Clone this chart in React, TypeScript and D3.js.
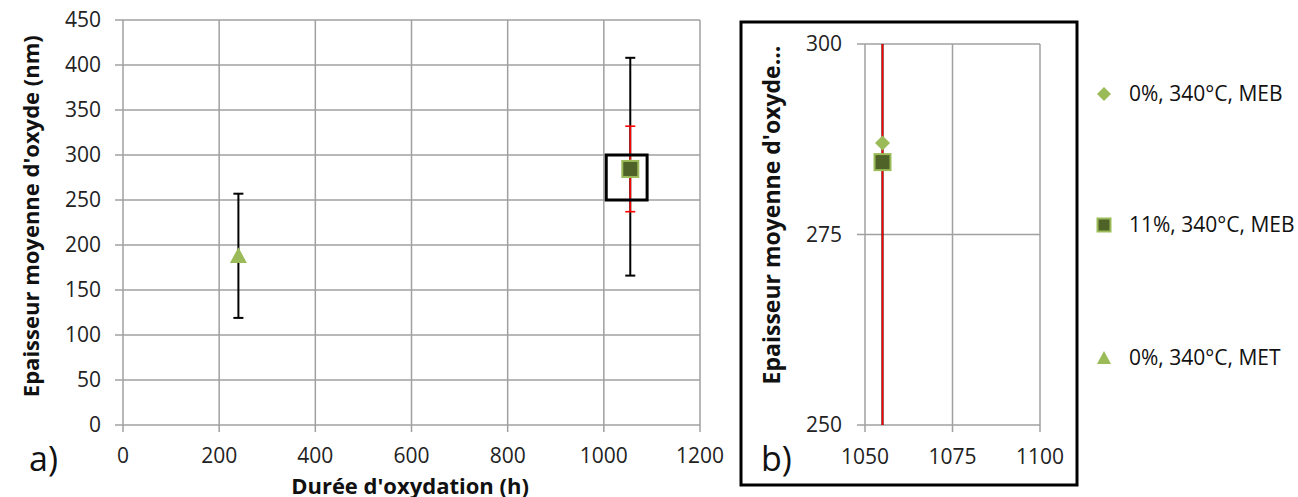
import React from "react";
import * as d3 from "d3";

// ---- data ----
const seriesNames = ["0%, 340°C, MEB", "11%, 340°C, MEB", "0%, 340°C, MET"];
const durations = [1055, 1055, 240];
const thickness = [287, 284.5, 188];
const errors = [121, 47.5, 69];
const xTicksA = [0, 200, 400, 600, 800, 1000, 1200];
const yTicksA = [0, 50, 100, 150, 200, 250, 300, 350, 400, 450];
const xTicksB = [1050, 1075, 1100];
const yTicksB = [250, 275, 300];
const zoomBoxX = [1005, 1090];
const zoomBoxY = [250, 300];

const FONT = "'Open Sans', 'Liberation Sans', sans-serif";
const GRID = "#a0a0a0";
const LIGHT = "#9bbb59";
const DARK = "#4f6228";
const errColor = ["#000000", "#ff0000", "#000000"];
const drawOrder = [0, 2, 1]; // error bars order: black first, red on top

function Marker({ kind, x, y, s }: { kind: number; x: number; y: number; s: number }) {
  if (kind === 0) {
    const h = s / 2;
    return <path d={`M${x},${y - h}L${x + h},${y}L${x},${y + h}L${x - h},${y}Z`} fill={LIGHT} />;
  }
  if (kind === 1) {
    return <rect x={x - s / 2} y={y - s / 2} width={s} height={s} fill={DARK} stroke={LIGHT} strokeWidth={2} />;
  }
  const h = s / 2;
  return <path d={`M${x},${y - h}L${x + h},${y + h * 0.85}L${x - h},${y + h * 0.85}Z`} fill={LIGHT} />;
}

export default function App() {
  const xa = d3.scaleLinear().domain([0, 1200]).range([123, 700]);
  const ya = d3.scaleLinear().domain([0, 450]).range([425, 20]);
  const xb = d3.scaleLinear().domain([1050, 1100]).range([865, 1040]);
  const yb = d3.scaleLinear().domain([250, 300]).range([425, 44]);

  const errBar = (i: number, xs: any, ys: any, clip?: string) => {
    const x = xs(durations[i]);
    const y1 = ys(thickness[i] + errors[i]);
    const y2 = ys(thickness[i] - errors[i]);
    return (
      <g key={"e" + i} stroke={errColor[i]} strokeWidth={errColor[i] === "#ff0000" ? 1.6 : 2} clipPath={clip}>
        <line x1={x} x2={x} y1={y1} y2={y2} />
        <line x1={x - 5} x2={x + 5} y1={y1} y2={y1} />
        <line x1={x - 5} x2={x + 5} y1={y2} y2={y2} />
      </g>
    );
  };

  const markerSize = [15, 16, 17];
  const plotOrder = [0, 2, 1];

  return (
    <svg width={1298} height={497} style={{ position: "absolute", left: 0, top: 0, background: "#fff" }} fontFamily={FONT}>
      <defs>
        <clipPath id="clipB">
          <rect x={xb(1050)} y={yb(300)} width={xb(1100) - xb(1050)} height={yb(250) - yb(300)} />
        </clipPath>
      </defs>
      {/* ---------- Chart a ---------- */}
      <g>
        {yTicksA.map((t) => (
          <g key={"ya" + t}>
            <line x1={115} x2={xa(1200)} y1={ya(t)} y2={ya(t)} stroke={GRID} strokeWidth={1.5} />
            <text x={101} y={ya(t)} dy="0.35em" textAnchor="end" fontSize={21} fill="#222">{t}</text>
          </g>
        ))}
        {xTicksA.map((t) => (
          <g key={"xa" + t}>
            <line x1={xa(t)} x2={xa(t)} y1={ya(450)} y2={ya(0) + 7} stroke={GRID} strokeWidth={1.5} />
            <text x={xa(t)} y={456} dy="0.35em" textAnchor="middle" fontSize={21} fill="#222">{t}</text>
          </g>
        ))}
        <text x={410} y={486} dy="0.35em" textAnchor="middle" fontSize={22} fontWeight="bold" fill="#111">Durée d'oxydation (h)</text>
        <text transform={`translate(31,${ya(232)}) rotate(-90)`} dy="0.35em" textAnchor="middle" fontSize={22} fontWeight="bold" fill="#111">Epaisseur moyenne d'oxyde (nm)</text>
        <text x={29} y={459} dy="0.35em" fontSize={34} fill="#111">a)</text>
        {drawOrder.map((i) => errBar(i, xa, ya))}
        {plotOrder.map((i) => (
          <Marker key={"ma" + i} kind={i} x={xa(durations[i])} y={ya(thickness[i])} s={markerSize[i]} />
        ))}
        <rect x={xa(zoomBoxX[0])} y={ya(zoomBoxY[1])} width={xa(zoomBoxX[1]) - xa(zoomBoxX[0])} height={ya(zoomBoxY[0]) - ya(zoomBoxY[1])} fill="none" stroke="#000" strokeWidth={3} />
      </g>
      {/* ---------- Chart b ---------- */}
      <g>
        <rect x={741} y={22} width={336} height={463} fill="none" stroke="#000" strokeWidth={3} />
        {yTicksB.map((t) => (
          <g key={"yb" + t}>
            <line x1={857} x2={xb(1100)} y1={yb(t)} y2={yb(t)} stroke={GRID} strokeWidth={1.5} />
            <text x={842} y={yb(t)} dy="0.35em" textAnchor="end" fontSize={21} fill="#222">{t}</text>
          </g>
        ))}
        {xTicksB.map((t) => (
          <g key={"xb" + t}>
            <line x1={xb(t)} x2={xb(t)} y1={yb(300)} y2={yb(250) + 7} stroke={GRID} strokeWidth={1.5} />
            <text x={xb(t)} y={457} dy="0.35em" textAnchor="middle" fontSize={21} fill="#222">{t}</text>
          </g>
        ))}
        <text transform={`translate(772,215) rotate(-90)`} dy="0.35em" textAnchor="middle" fontSize={23} fontWeight="bold" fill="#111">Epaisseur moyenne d'oxyde...</text>
        <text x={761} y={459} dy="0.35em" fontSize={34} fill="#111">b)</text>
        {drawOrder.map((i) => errBar(i, xb, yb, "url(#clipB)"))}
        <g clipPath="url(#clipB)">
          {plotOrder.map((i) => (
            <Marker key={"mb" + i} kind={i} x={xb(durations[i])} y={yb(thickness[i])} s={markerSize[i]} />
          ))}
        </g>
      </g>
      {/* ---------- Legend ---------- */}
      {seriesNames.map((name, i) => {
        const ly = [94, 225, 358][i];
        return (
          <g key={"lg" + i}>
            <Marker kind={i} x={1104} y={ly} s={[14, 13, 14][i]} />
            <text x={1129} y={ly} dy="0.35em" fontSize={21} fill="#111">{name}</text>
          </g>
        );
      })}
    </svg>
  );
}
